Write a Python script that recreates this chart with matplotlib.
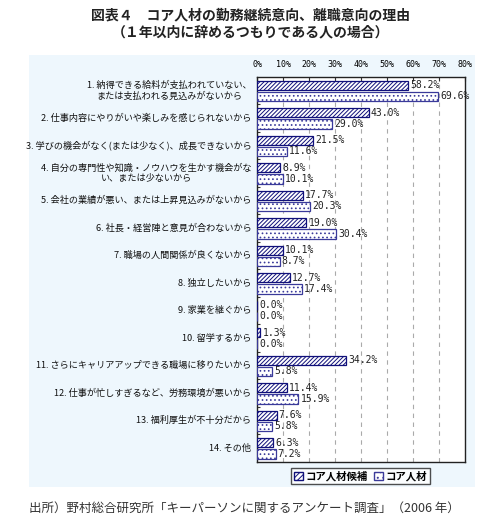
import matplotlib.pyplot as plt
from matplotlib.patches import Rectangle, Patch

plt.rcParams['font.family'] = ['Noto Sans CJK JP', 'DejaVu Sans']
plt.rcParams['hatch.linewidth'] = 0.7

categories = [
    "1. 納得できる給料が支払われていない、\nまたは支払われる見込みがないから",
    "2. 仕事内容にやりがいや楽しみを感じられないから",
    "3. 学びの機会がなく(または少なく)、成長できないから",
    "4. 自分の専門性や知識・ノウハウを生かす機会がな\nい、または少ないから",
    "5. 会社の業績が悪い、または上昇見込みがないから",
    "6. 社長・経営陣と意見が合わないから",
    "7. 職場の人間関係が良くないから",
    "8. 独立したいから",
    "9. 家業を継ぐから",
    "10. 留学するから",
    "11. さらにキャリアアップできる職場に移りたいから",
    "12. 仕事が忙しすぎるなど、労務環境が悪いから",
    "13. 福利厚生が不十分だから",
    "14. その他",
]
candidate = [58.2, 43.0, 21.5, 8.9, 17.7, 19.0, 10.1, 12.7, 0.0, 1.3, 34.2, 11.4, 7.6, 6.3]
core = [69.6, 29.0, 11.6, 10.1, 20.3, 30.4, 8.7, 17.4, 0.0, 0.0, 5.8, 15.9, 5.8, 7.2]
series_names = ["コア人材候補", "コア人材"]
xticks = [0, 10, 20, 30, 40, 50, 60, 70, 80]

navy = '#10107a'
dotc = '#3a3a9a'
fig = plt.figure(figsize=(4.93, 5.28), dpi=100)
fig.patches.append(Rectangle((0.0588, 0.0777), 0.9047, 0.818, transform=fig.transFigure,
                             facecolor='#eef7fd', edgecolor='none', zorder=-10))

ax = fig.add_axes([0.5213, 0.125, 0.4219, 0.7292])
ax.set_facecolor('white')

n = len(categories)
pos1 = [i + 0.30 for i in range(n)]
pos2 = [i + 0.705 for i in range(n)]
ax.barh(pos1, candidate, height=0.34, color='white', edgecolor=navy, hatch='////////', lw=0.9, zorder=3)
ax.barh(pos2, core, height=0.34, color='white', edgecolor=dotc, hatch='....', lw=0.9, zorder=3)

for p, v in zip(pos1, candidate):
    ax.text(v + 0.8, p, f"{v:.1f}%", va='center', ha='left', fontsize=7,
            family='DejaVu Sans Mono', color='#222222', zorder=4)
for p, v in zip(pos2, core):
    ax.text(v + 0.8, p, f"{v:.1f}%", va='center', ha='left', fontsize=7,
            family='DejaVu Sans Mono', color='#222222', zorder=4)

for i, c in enumerate(categories):
    ax.text(-2.2, i + 0.5, c, ha='right', va='center', multialignment='center',
            fontsize=6.6, color='#111111', linespacing=1.2)

ax.set_xlim(0, 80)
ax.set_ylim(n, 0)
ax.xaxis.tick_top()
ax.set_xticks(xticks)
ax.set_xticklabels([f"{t}%" for t in xticks], family='DejaVu Sans Mono', fontsize=6)
ax.tick_params(axis='x', direction='in', length=3, pad=6, color='#333333')
ax.set_yticks(range(1, n))
ax.set_yticklabels([])
ax.tick_params(axis='y', direction='in', length=2, color='#333333')
for t in xticks[1:-1]:
    ax.axvline(t, color='#aaaaaa', ls=(0, (4, 4)), lw=0.8, zorder=1)
for s in ax.spines.values():
    s.set_linewidth(1.0)
    s.set_color('#222222')

handles = [Patch(facecolor='white', edgecolor=navy, hatch='//////'),
           Patch(facecolor='white', edgecolor=dotc, hatch='...')]
leg = fig.legend(handles, series_names, loc='center', bbox_to_anchor=(0.732, 0.0985),
                 ncol=2, fontsize=7.5, frameon=True, fancybox=False, handlelength=0.8,
                 handleheight=0.8, handletextpad=0.3, columnspacing=0.6, borderpad=0.3)
leg.get_frame().set_edgecolor('#222222')
leg.get_frame().set_linewidth(1.0)
for t in leg.get_texts():
    t.set_fontweight('bold')

fig.text(0.509, 0.971, "図表４　コア人材の勤務継続意向、離職意向の理由", ha='center', va='center',
         fontsize=10, fontweight='bold', color='#222222')
fig.text(0.509, 0.938, "（１年以内に辞めるつもりである人の場合）", ha='center', va='center',
         fontsize=10, fontweight='bold', color='#222222')
fig.text(0.059, 0.038, "出所）野村総合研究所「キーパーソンに関するアンケート調査」（2006 年）",
         ha='left', va='center', fontsize=9, color='#333333')

fig.savefig('out.png', dpi=100)
